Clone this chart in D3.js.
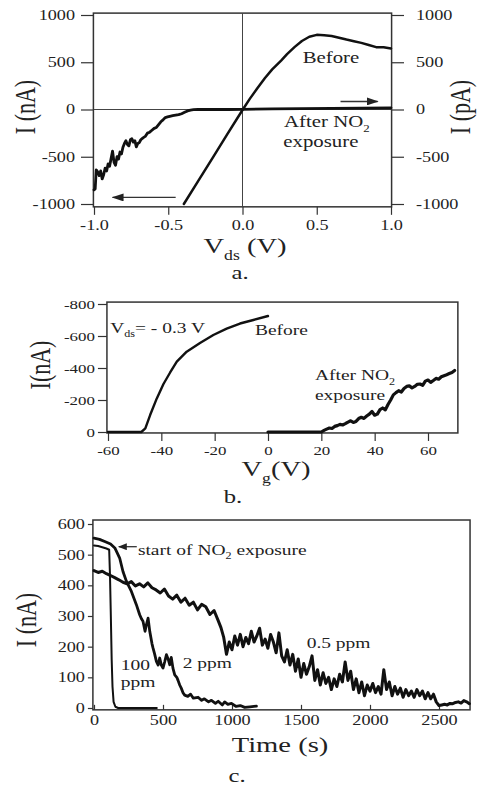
<!DOCTYPE html>
<html>
<head>
<meta charset="utf-8">
<script src="https://cdn.jsdelivr.net/npm/d3@7"></script>
<style>
  body { margin: 0; background: #fff; }
  svg { display: block; }
  text { font-family: "Liberation Serif", "Times New Roman", serif; fill: #222; }
</style>
</head>
<body>
<svg id="chart" width="477" height="787"></svg>
<script>
// ---- panel a: I-Vds, before (nA, left axis) and after NO2 (pA, right axis)
const vdsBefore = [-0.395, -0.3, -0.2, -0.1, 0, 0.05, 0.1, 0.15, 0.2, 0.26, 0.3, 0.35, 0.4, 0.45, 0.5, 0.55, 0.6, 0.65, 0.7, 0.75, 0.8, 0.85, 0.9, 0.95, 1.0];
const iBefore = [-1000, -760, -510, -255, -5, 115, 225, 330, 425, 518, 585, 660, 725, 770, 790, 785, 778, 760, 740, 722, 705, 682, 660, 658, 645];
const vdsAfter = [-1.0, -0.992, -0.985, -0.975, -0.965, -0.955, -0.945, -0.935, -0.925, -0.915, -0.905, -0.895, -0.885, -0.875, -0.865, -0.855, -0.845, -0.835, -0.825, -0.815, -0.805, -0.795, -0.785, -0.775, -0.765, -0.755, -0.745, -0.735, -0.725, -0.715, -0.705, -0.695, -0.685, -0.67, -0.655, -0.64, -0.625, -0.61, -0.595, -0.58, -0.565, -0.55, -0.535, -0.52, -0.505, -0.49, -0.47, -0.45, -0.43, -0.41, -0.39, -0.37, -0.35, -0.33, -0.3, -0.2, -0.1, 0, 0.2, 0.4, 0.6, 0.8, 1.0];
const iAfter = [-850, -840, -640, -660, -700, -650, -735, -690, -620, -650, -575, -600, -520, -440, -560, -590, -500, -525, -450, -470, -400, -360, -330, -370, -385, -320, -310, -345, -330, -395, -360, -350, -320, -300, -285, -250, -240, -220, -200, -190, -160, -130, -110, -85, -78, -72, -65, -60, -55, -45, -30, -15, -6, -2, 0, 0, 0, 2, 6, 10, 12, 15, 18];
const aTicksX = [-1, -0.5, 0, 0.5, 1];
const aTicksY = [-1000, -500, 0, 500, 1000];

// ---- panel b: I-Vg at Vds = -0.3 V
const vgBefore = [-60, -55, -50, -47.5, -46, -44.2, -41.7, -39.2, -36.7, -34.2, -30.5, -25.5, -20.5, -15.5, -10.5, -5.5, 0];
const iGateBefore = [0, 0, 0, 0, -23, -106, -210, -300, -372, -440, -502, -556, -606, -646, -678, -700, -725];
const vgAfter = [0, 5, 10, 15, 20, 21, 22, 23, 24, 25, 26, 27, 28, 29, 30, 31, 32, 33, 34, 35, 36, 37, 38, 39, 40, 41, 42, 43, 44, 45, 46, 47, 48, 49, 50, 51, 52, 53, 54, 55, 56, 57, 58, 59, 60, 61, 62, 63, 64, 65, 66, 67, 68, 69, 70];
const iGateAfter = [0, 0, 0, 0, 0, -10, -18, -25, -22, -35, -40, -48, -44, -52, -62, -70, -60, -66, -84, -92, -85, -100, -112, -128, -105, -112, -140, -150, -138, -172, -200, -232, -246, -258, -250, -272, -285, -288, -276, -285, -298, -300, -292, -318, -325, -310, -322, -335, -330, -345, -352, -358, -365, -372, -385];
const bTicksX = [-60, -40, -20, 0, 20, 40, 60];
const bTicksY = [-800, -600, -400, -200, 0];

// ---- panel c: current vs time for three NO2 concentrations
const t100 = [0, 30, 60, 90, 110, 116, 122, 128, 134, 142, 155, 175, 300, 455];
const i100 = [530, 528, 524, 520, 516, 430, 300, 160, 70, 20, 4, 0, 0, 0];
const t2 = [0, 40, 78, 120, 151, 186, 210, 235, 271, 307, 331, 345, 355, 370, 380, 392, 404, 420, 428, 440, 452, 465, 476, 488, 500, 512, 525, 537, 549, 560, 572, 585, 600, 609, 621, 633, 645, 657, 680, 700, 720, 754, 780, 800, 830, 851, 880, 900, 930, 947, 970, 996, 1030, 1060, 1092, 1130, 1177];
const i2 = [554, 550, 543, 535, 522, 489, 445, 413, 380, 337, 304, 290, 283, 250, 272, 293, 250, 210, 195, 175, 152, 140, 163, 140, 130, 150, 174, 160, 141, 165, 130, 108, 100, 90, 75, 64, 50, 42, 38, 45, 32, 35, 25, 30, 20, 25, 15, 22, 10, 20, 12, 15, 5, 8, 2, 4, 6];
const t05 = [0, 30, 60, 90, 120, 150, 180, 210, 240, 270, 300, 330, 360, 390, 420, 450, 480, 510, 540, 570, 600, 630, 660, 690, 720, 750, 780, 810, 840, 870, 900, 920, 940, 960, 980, 1000, 1020, 1040, 1060, 1080, 1100, 1120, 1140, 1160, 1180, 1200, 1220, 1240, 1260, 1280, 1300, 1320, 1340, 1360, 1380, 1400, 1420, 1440, 1460, 1480, 1500, 1520, 1540, 1560, 1580, 1600, 1620, 1640, 1660, 1680, 1700, 1720, 1740, 1760, 1780, 1800, 1820, 1840, 1860, 1880, 1900, 1920, 1940, 1960, 1980, 2000, 2020, 2040, 2060, 2080, 2100, 2120, 2140, 2160, 2180, 2200, 2220, 2240, 2260, 2280, 2300, 2320, 2340, 2360, 2380, 2400, 2420, 2440, 2460, 2480, 2500, 2520, 2540, 2560, 2580, 2600, 2620, 2640, 2660, 2680, 2700, 2720];
const i05 = [448, 442, 446, 438, 432, 425, 418, 410, 405, 412, 398, 405, 395, 408, 392, 385, 375, 388, 365, 355, 368, 345, 358, 335, 345, 320, 338, 330, 305, 318, 285, 262, 230, 175, 215, 190, 235, 205, 240, 200, 230, 210, 250, 215, 235, 260, 205, 225, 195, 240, 215, 180, 245, 170, 150, 190, 140, 175, 120, 160, 100, 145, 110, 135, 170, 90, 125, 75, 115, 80, 100, 60, 95, 70, 110, 85, 150, 90, 120, 60, 95, 50, 85, 40, 75, 55, 80, 50, 70, 45, 125, 60, 85, 40, 70, 45, 65, 35, 60, 40, 55, 35, 60, 40, 55, 30, 50, 30, 45, 20, 8, 10, 12, 10, 15, 14, 18, 20, 16, 24, 20, 14];
const cTicksX = [0, 500, 1000, 1500, 2000, 2500];
const cTicksY = [0, 100, 200, 300, 400, 500, 600];

const svg = d3.select("#chart");
const SX = 1.3;   // the scanned figure is stretched sideways

const defs = svg.append("defs");
defs.append("marker").attr("id", "head").attr("markerUnits", "userSpaceOnUse")
  .attr("markerWidth", 12).attr("markerHeight", 8).attr("refX", 11).attr("refY", 4).attr("orient", "auto")
  .append("path").attr("d", "M0,0 L12,4 L0,8 Z").attr("fill", "#222");
defs.append("marker").attr("id", "headSmall").attr("markerUnits", "userSpaceOnUse")
  .attr("markerWidth", 9).attr("markerHeight", 7).attr("refX", 8).attr("refY", 3.5).attr("orient", "auto")
  .append("path").attr("d", "M0,0 L9,3.5 L0,7 Z").attr("fill", "#222");

// text with optional subscripts: parts is a list of strings or {sub: "..."}
const label = (x, y, parts, size, anchor = "start", rotate = false) => {
  const t = svg.append("text")
    .attr("transform", rotate
      ? `translate(${x},${y}) rotate(-90) scale(1,${SX})`
      : `translate(${x},${y}) scale(${SX},1)`)
    .attr("font-size", size)
    .attr("text-anchor", anchor);
  let down = false;
  parts.forEach(p => {
    if (typeof p === "string") {
      t.append("tspan").attr("dy", down ? -size * 0.3 : null).text(p);
      down = false;
    } else {
      t.append("tspan").attr("font-size", size * 0.62).attr("dy", size * 0.3).text(p.sub);
      down = true;
    }
  });
  return t;
};

const styleAxis = (g, size) => {
  g.attr("font-family", null).attr("font-size", size);
  g.select(".domain").remove();
  g.selectAll(".tick line").attr("stroke", "#333").attr("stroke-width", 1.2);
  g.selectAll(".tick text").attr("fill", "#222").each(function () {
    const t = d3.select(this);
    const x = +t.attr("x") || 0;
    t.attr("x", x / SX).attr("transform", `scale(${SX},1)`);
  });
};

const frame = (x, y, xd, yd) => {
  const x0 = x(xd[0]), x1 = x(xd[1]), y0 = y(yd[0]), y1 = y(yd[1]);
  svg.append("rect")
    .attr("x", Math.min(x0, x1)).attr("y", Math.min(y0, y1))
    .attr("width", Math.abs(x1 - x0)).attr("height", Math.abs(y1 - y0))
    .attr("fill", "none").attr("stroke", "#333").attr("stroke-width", 1.5);
};

const drawLine = (x, y, xs, ys, width) => {
  svg.append("path")
    .datum(d3.zip(xs, ys))
    .attr("fill", "none").attr("stroke", "#111")
    .attr("stroke-width", width).attr("stroke-linejoin", "round").attr("stroke-linecap", "round")
    .attr("d", d3.line().x(d => x(d[0])).y(d => y(d[1])));
};

// ================= panel a =================
{
  const x = d3.scaleLinear().domain([-1, 1]).range([94, 391]);
  const y = d3.scaleLinear().domain([-1000, 1000]).range([204, 15]);

  frame(x, y, [-1.004, 1.004], [-1030, 1020]);
  // zero cross-hairs
  svg.append("line").attr("x1", x(-1)).attr("x2", x(1)).attr("y1", y(0)).attr("y2", y(0))
    .attr("stroke", "#444").attr("stroke-width", 1);
  svg.append("line").attr("x1", x(0)).attr("x2", x(0)).attr("y1", y(1020)).attr("y2", y(-1030))
    .attr("stroke", "#444").attr("stroke-width", 1);

  svg.append("g").attr("transform", `translate(${x(-1) - 1},0)`)
    .call(d3.axisLeft(y).tickValues(aTicksY).tickSize(12).tickPadding(6).tickFormat(d => String(d)))
    .call(styleAxis, 14);
  svg.append("g").attr("transform", `translate(${x(1) + 1},0)`)
    .call(d3.axisRight(y).tickValues(aTicksY).tickSize(12).tickPadding(12).tickFormat(d => String(d)))
    .call(styleAxis, 14);
  svg.append("g").attr("transform", `translate(0,${y(-1030)})`)
    .call(d3.axisBottom(x).tickValues(aTicksX).tickSize(8).tickPadding(5).tickFormat(d => d.toFixed(1)))
    .call(styleAxis, 14);

  drawLine(x, y, vdsBefore, iBefore, 2.5);
  drawLine(x, y, vdsAfter, iAfter, 2.8);

  svg.append("line").attr("x1", x(-0.45)).attr("x2", x(-0.875)).attr("y1", y(-930)).attr("y2", y(-930))
    .attr("stroke", "#333").attr("stroke-width", 1.4).attr("marker-end", "url(#head)");
  svg.append("line").attr("x1", x(0.66)).attr("x2", x(0.91)).attr("y1", y(85)).attr("y2", y(85))
    .attr("stroke", "#333").attr("stroke-width", 1.4).attr("marker-end", "url(#head)");

  label(x(0.405), y(487), ["Before"], 16);
  label(x(0.28), y(-190), ["After NO", {sub: "2"}], 16);
  label(x(0.275), y(-402), ["exposure"], 16);

  label(35, 107, ["I (nA)"], 22, "middle", true);
  label(470, 107, ["I (pA)"], 22, "middle", true);
  label(245, 253, ["V", {sub: "ds"}, " (V)"], 22, "middle");
  label(240, 279, ["a."], 19, "middle");
}

// ================= panel b =================
{
  const x = d3.scaleLinear().domain([-60, 60]).range([108, 428]);
  const y = d3.scaleLinear().domain([0, -800]).range([432, 304]);

  frame(x, y, [-60.4, 71.2], [6, -812]);

  svg.append("g").attr("transform", `translate(${x(-60.4)},0)`)
    .call(d3.axisLeft(y).tickValues(bTicksY).tickSize(9).tickPadding(3).tickFormat(d => String(d)))
    .call(styleAxis, 13);
  svg.append("g").attr("transform", `translate(0,${y(6)})`)
    .call(d3.axisBottom(x).tickValues(bTicksX).tickSize(8).tickPadding(5).tickFormat(d => String(d)))
    .call(styleAxis, 13);

  drawLine(x, y, vgBefore, iGateBefore, 2.4);
  drawLine(x, y, vgAfter, iGateAfter, 3.2);

  label(x(-59.2), y(-619), ["V", {sub: "ds"}, "= - 0.3 V"], 15);
  label(x(-4.9), y(-606), ["Before"], 15);
  label(x(17.6), y(-325), ["After NO", {sub: "2"}], 15);
  label(x(17.6), y(-200), ["exposure"], 15);

  label(50, 365, ["I(nA)"], 22, "middle", true);
  label(276, 476, ["V", {sub: "g"}, "(V)"], 22, "middle");
  label(233, 503, ["b."], 19, "middle");
}

// ================= panel c =================
{
  const x = d3.scaleLinear().domain([0, 2500]).range([94, 439]);
  const y = d3.scaleLinear().domain([0, 600]).range([708, 524]);

  frame(x, y, [-8, 2725], [-6, 613]);

  svg.append("g").attr("transform", `translate(${x(-8)},0)`)
    .call(d3.axisLeft(y).tickValues(cTicksY).tickSize(5).tickPadding(3).tickFormat(d => String(d)))
    .call(styleAxis, 14);
  // ticks point inward, labels stay below the frame
  svg.append("g").attr("transform", `translate(0,${y(-6)})`)
    .call(d3.axisBottom(x).tickValues(cTicksX).tickSize(-5).tickPadding(5).tickFormat(d => String(d)))
    .call(styleAxis, 14);

  drawLine(x, y, t05, i05, 3);
  drawLine(x, y, t2, i2, 2.8);
  drawLine(x, y, t100, i100, 2);

  svg.append("line").attr("x1", x(310)).attr("x2", x(180)).attr("y1", y(526)).attr("y2", y(526))
    .attr("stroke", "#333").attr("stroke-width", 1.3).attr("marker-end", "url(#headSmall)");
  label(x(318), y(500), ["start of NO", {sub: "2"}, " exposure"], 15);
  label(x(194), y(124), ["100"], 15);
  label(x(194), y(69), ["ppm"], 15);
  label(x(643), y(131), ["2 ppm"], 15);
  label(x(1541), y(196), ["0.5 ppm"], 15);

  label(36, 620, ["I (nA)"], 22, "middle", true);
  label(280, 752, ["Time (s)"], 22, "middle");
  label(237, 782, ["c."], 19, "middle");
}
</script>
</body>
</html>
